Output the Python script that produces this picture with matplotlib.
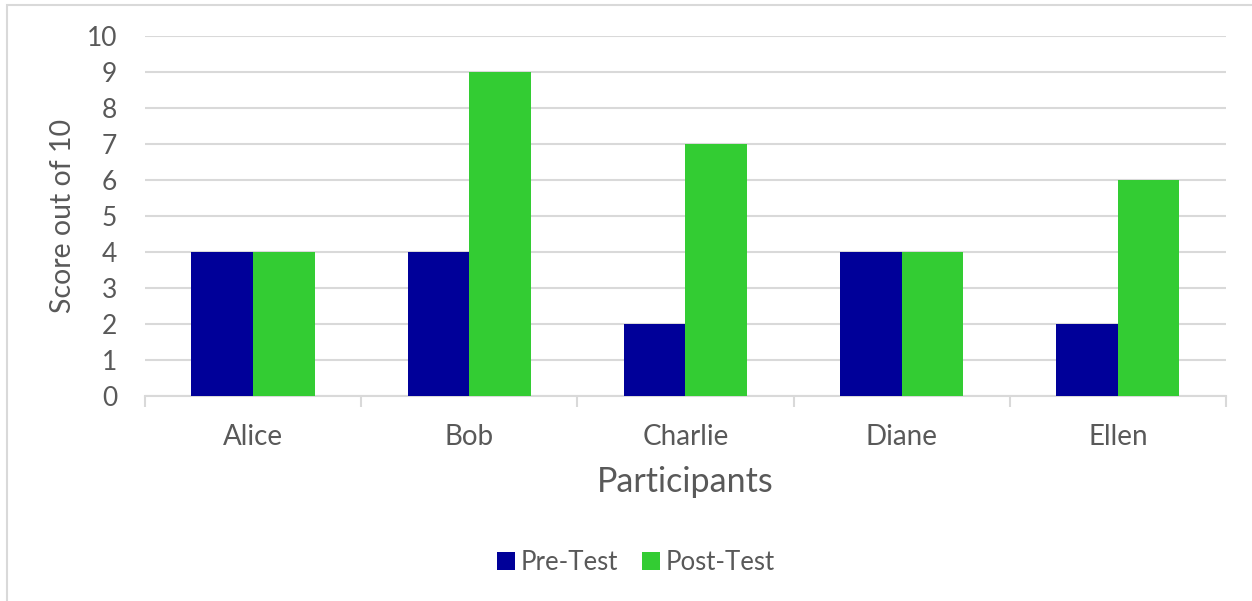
import numpy as np
import matplotlib.pyplot as plt
from matplotlib.patches import Rectangle

participants = ["Alice", "Bob", "Charlie", "Diane", "Ellen"]
pre_test = [4, 4, 2, 4, 2]
post_test = [4, 9, 7, 4, 6]

plt.rcParams['font.family'] = ['Lato', 'DejaVu Sans']
txt = "#595959"
grid = "#d9d9d9"

fig = plt.figure(figsize=(12.52, 6.01), dpi=100)
ax = fig.add_axes([0.1158, 0.3411, 0.8634, 0.599])

x = np.arange(len(participants))
w = 0.285
ax.bar(x - w / 2, pre_test, w, color="#000099", label="Pre-Test", zorder=3)
ax.bar(x + w / 2, post_test, w, color="#33cc33", label="Post-Test", zorder=3)

ax.set_xlim(-0.5, len(participants) - 0.5)
ax.set_ylim(0, 10)
ax.set_yticks(range(0, 11))
ax.yaxis.grid(True, color=grid, linewidth=1.5, zorder=0)
for s in ["top", "right", "left"]:
    ax.spines[s].set_visible(False)
ax.spines["bottom"].set_color(grid)
ax.spines["bottom"].set_linewidth(1.5)
ax.tick_params(axis="y", length=0, labelsize=19, labelcolor=txt, pad=20)
ax.set_xticks(x)
ax.set_xticklabels(participants)
ax.tick_params(axis="x", length=0, labelsize=20, labelcolor=txt, pad=20)
# category boundary ticks
ax.set_xticks(np.arange(-0.5, len(participants)), minor=True)
ax.tick_params(axis="x", which="minor", length=8, width=1.5, color=grid)

ax.set_xlabel("Participants", fontsize=24.5, color=txt, labelpad=12)
ax.set_ylabel("Score out of 10", fontsize=20.5, color=txt, labelpad=8)

ax.legend(loc="center", bbox_to_anchor=(0.454, -0.462), ncol=2, frameon=False,
          fontsize=18.5, labelcolor=txt, handlelength=0.7, handleheight=0.7,
          handletextpad=0.2, columnspacing=0.95)

# chart border
fig.patches.append(Rectangle((7 / 1252, -0.1), 1.2, 1 - 5 / 601 + 0.1,
                             transform=fig.transFigure, fill=False,
                             edgecolor=grid, linewidth=1.5))

fig.savefig("out.png", dpi=100)
